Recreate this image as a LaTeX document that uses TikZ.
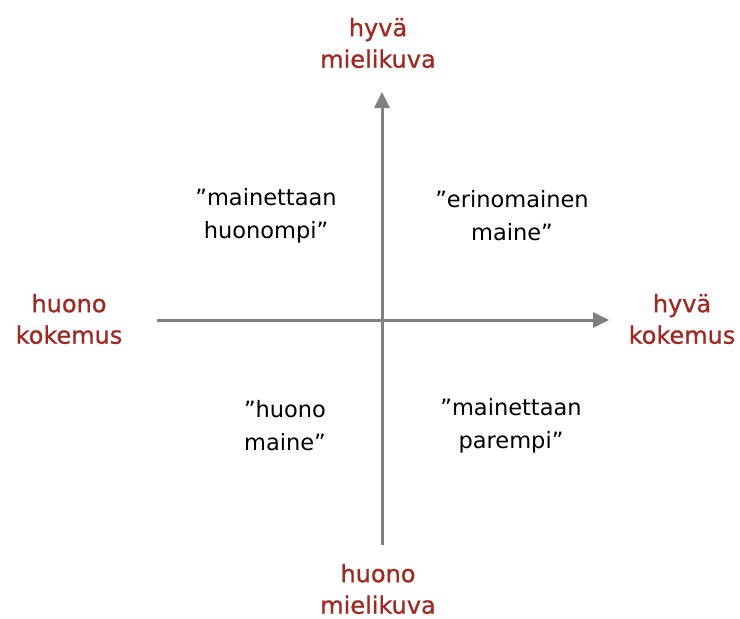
\documentclass[tikz,border=0pt]{standalone}
\usepackage{fontspec}
\setmainfont{DejaVu Sans}
\newfontfamily\redlabelfont[FakeBold=0.8]{DejaVu Sans}
\usetikzlibrary{arrows.meta}
\definecolor{axisgray}{HTML}{808080}
\definecolor{axisred}{HTML}{9E2A24}

\begin{document}
\begin{tikzpicture}[x=1pt, y=-1pt,
    axislabel/.style={text=axisred, align=center, inner sep=0pt, font=\redlabelfont\fontsize{24}{31.5}\selectfont},
    quadlabel/.style={text=black, align=center, inner sep=0pt, font=\fontsize{22.5}{33}\selectfont},
    axisline/.style={draw=axisgray, line width=3pt, -{Triangle[length=16pt, width=15pt]}}]
                        \useasboundingbox (0,0) rectangle (740,619);
                        \coordinate (west) at (157,320);
                        \coordinate (east) at (609,320);
                        \coordinate (south) at (382,545);
                        \coordinate (north) at (382,92);

                        \node[axislabel] (goodimg) at (378,43) {hyvä\\mielikuva};
                        \node[axislabel] (badimg) at (378,589) {huono\\mielikuva};
                        \node[axislabel] (badexp) at (69,319) {huono\\kokemus};
                        \node[axislabel] (goodexp) at (682,319) {hyvä\\kokemus};

                        \node[quadlabel] (worse) at (266,216) {”mainettaan\\huonompi”};
                        \node[quadlabel] (excellent) at (512,216) {”erinomainen\\maine”};
                        \node[quadlabel] (poor) at (285,426) {”huono\\maine”};
                        \node[quadlabel] (better) at (511,426) {”mainettaan\\parempi”};

                        \draw[axisline] (west) -- (east);
                        \draw[axisline] (south) -- (north);
                    \end{tikzpicture}
\end{document}
